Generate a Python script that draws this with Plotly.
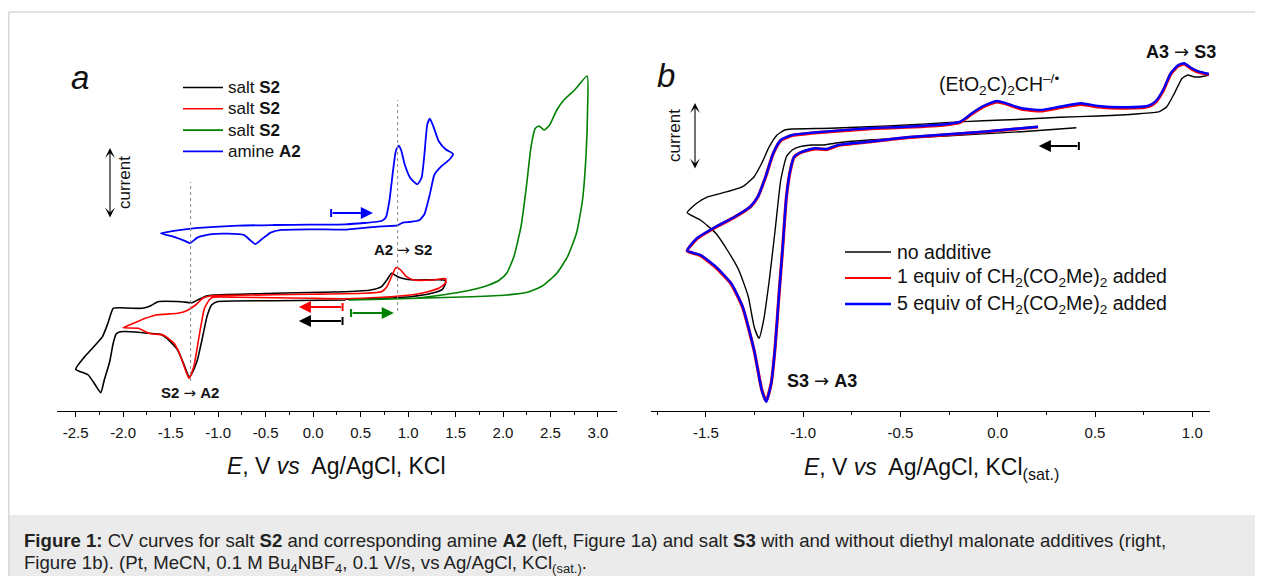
import plotly.graph_objects as go

W, H = 1263, 576          # browser window
OFF = 8                   # default page margin of the html body
FW, FH = W - OFF, H - OFF  # figure size so that it fits the window
FONT = "Liberation Sans, Arial, Helvetica, sans-serif"

# ---------------- Panel a data: E (V vs Ag/AgCl) and current (arb. units) ----------------
a_black_E = [0.344, -0.410, -1.012, -1.069, -1.118, -1.163, -1.219, -1.276, -1.306, -1.351, -1.427, -1.540,
             -1.615, -1.728, -1.916, -2.029, -2.074, -2.105, -2.142, -2.199, -2.236, -2.293, -2.368, -2.500,
             -2.406, -2.293, -2.218, -2.161, -2.105, -2.029, -1.803, -1.709, -1.634, -1.389, -1.276, -1.201,
             -1.125, -1.050, -0.410, 0.344, 0.607, 0.720, 0.777, 0.826, 0.890, 0.984, 1.097, 1.380, 1.398,
             1.361, 1.248, 1.022, 0.720, 0.344]
a_black_I = [11.10, 11.03, 10.93, 10.60, 9.43, 7.43, 5.10, 3.77, 3.43, 4.43, 6.10, 7.27,
             7.70, 7.77, 7.93, 7.93, 7.70, 6.77, 4.93, 3.10, 1.83, 2.60, 3.60, 4.17,
             5.43, 6.60, 7.43, 8.77, 10.27, 10.33, 10.27, 10.53, 10.93, 10.93, 10.83, 11.17,
             11.50, 11.60, 11.77, 11.93, 12.10, 12.43, 13.10, 13.77, 13.43, 13.17, 13.10, 13.10, 12.87,
             12.17, 11.77, 11.43, 11.27, 11.17]

a_red_E = [0.344, -0.033, -0.410, -0.786, -1.050, -1.088, -1.144, -1.201, -1.257, -1.306, -1.351, -1.408,
           -1.464, -1.577, -1.653, -1.728, -1.841, -1.999, -1.916, -1.766, -1.653, -1.427, -1.332, -1.238,
           -1.163, -1.088, -0.786, -0.033, 0.532, 0.720, 0.777, 0.833, 0.871, 0.916, 0.984, 1.059, 1.248,
           1.398, 1.391, 1.323, 1.210, 1.097, 0.909, 0.720, 0.344]
a_red_I = [11.23, 11.27, 11.33, 11.37, 11.37, 11.17, 10.27, 7.43, 4.43, 3.27, 4.27, 5.77,
           6.77, 7.60, 7.67, 7.77, 8.27, 8.33, 8.67, 9.27, 9.60, 9.77, 10.03, 10.60,
           11.27, 11.50, 11.57, 11.67, 11.77, 11.93, 12.43, 13.60, 14.33, 14.17, 13.43, 13.10, 13.10,
           13.23, 12.77, 12.27, 11.93, 11.70, 11.50, 11.37, 11.23]

a_green_E = [0.381, 1.097, 1.474, 1.662, 1.850, 1.963, 2.038, 2.114, 2.189, 2.246, 2.295, 2.340, 2.378,
             2.434, 2.491, 2.566, 2.641, 2.754, 2.886, 2.890, 2.875, 2.837, 2.773, 2.679, 2.566, 2.415,
             2.265, 2.038, 1.662, 1.097, 0.381]
a_green_I = [11.10, 11.30, 11.77, 12.10, 12.60, 13.10, 13.77, 15.43, 18.43, 22.43, 26.43, 28.27, 28.50,
             28.10, 28.60, 30.10, 31.10, 32.10, 33.50, 30.10, 25.77, 21.10, 17.77, 15.43, 13.77, 12.50,
             11.90, 11.60, 11.43, 11.27, 11.10]

a_blue_E = [-1.604, -1.427, -1.163, -0.786, -0.410, -0.033, 0.344, 0.532, 0.720, 0.766, 0.803, 0.841, 0.871,
            0.901, 0.928, 0.965, 1.022, 1.097, 1.142, 1.172, 1.202, 1.229, 1.266, 1.323, 1.398, 1.474,
            1.436, 1.342, 1.278, 1.229, 1.172, 1.116, 1.022, 0.946, 0.890, 0.720, 0.457, 0.344, -0.033,
            -0.334, -0.447, -0.541, -0.609, -0.654, -0.730, -0.899, -1.088, -1.219, -1.295, -1.351, -1.464,
            -1.604]
a_blue_I = [17.77, 18.07, 18.34, 18.54, 18.60, 18.64, 18.67, 18.80, 19.00, 19.34, 21.00, 23.99, 25.98,
            26.54, 26.05, 24.65, 23.32, 22.66, 23.32, 25.65, 28.64, 29.24, 28.47, 26.98, 26.15, 25.71,
            25.15, 24.39, 23.65, 21.66, 19.67, 19.07, 18.90, 18.84, 18.57, 18.47, 18.24, 18.14, 18.17,
            18.11, 17.84, 17.18, 16.68, 17.01, 17.61, 17.74, 17.67, 17.34, 16.78, 17.01, 17.41,
            17.77]

a_names = ["salt <b>S2</b>", "salt <b>S2</b>", "salt <b>S2</b>", "amine <b>A2</b>"]

# ---------------- Panel b data ----------------
b_black_E = [0.404, 0.123, -0.270, -0.663, -0.820, -0.899, -0.958, -1.017, -1.056, -1.086, -1.115, -1.144,
             -1.174, -1.203, -1.227, -1.252, -1.282, -1.331, -1.390, -1.449, -1.528, -1.596,
             -1.547, -1.488, -1.390, -1.311, -1.252, -1.213, -1.174, -1.134, -1.095, -1.056, -0.860, -0.663,
             -0.467, -0.270, -0.074, 0.123, 0.319, 0.516, 0.712, 0.830, 0.869, 0.908, 0.948, 0.977, 1.007,
             1.046, 1.085]
b_black_I = [28.33, 27.93, 27.50, 27.10, 26.83, 26.60, 26.60, 26.43, 26.10, 25.43, 23.10, 18.10,
             13.10, 9.10, 7.27, 8.43, 11.43, 14.10, 16.10, 17.77, 19.10, 19.83,
             20.77, 21.43, 21.93, 22.43, 23.43, 24.77, 26.43, 27.60, 28.10, 28.20, 28.27, 28.43,
             28.60, 28.83, 29.03, 29.17, 29.37, 29.50, 29.70, 29.93, 30.43, 31.77, 33.27, 33.60, 33.43,
             33.43, 33.60]

b_blue_E = [0.207, -0.074, -0.467, -0.663, -0.820, -0.879, -0.938, -0.978, -1.017, -1.046, -1.066, -1.086,
            -1.105, -1.125, -1.144, -1.164, -1.190, -1.213, -1.252, -1.311, -1.370, -1.449, -1.528, -1.596,
            -1.547, -1.449, -1.351, -1.272, -1.233, -1.193, -1.154, -1.115, -1.056, -0.958, -0.663, -0.467,
            -0.270, -0.192, -0.133, -0.074, -0.005, 0.044, 0.123, 0.221, 0.319, 0.427, 0.516, 0.633, 0.771,
            0.810, 0.850, 0.889, 0.928, 0.958, 0.997, 1.036, 1.085]
b_blue_I = [28.43, 27.93, 27.37, 26.93, 26.60, 26.20, 26.27, 26.10, 25.83, 25.43, 24.10, 21.43,
            16.43, 11.43, 6.43, 2.77, 0.93, 2.10, 6.10, 10.43, 12.77, 14.43, 15.60, 16.03,
            17.27, 18.43, 19.43, 20.43, 21.43, 23.43, 25.77, 27.10, 27.60, 27.83, 28.27, 28.43,
            28.67, 28.93, 29.77, 30.50, 31.00, 30.77, 30.27, 30.10, 30.43, 30.77, 30.50, 30.37, 30.50,
            30.93, 32.10, 33.77, 34.60, 34.77, 34.27, 33.93, 33.70]

b_red_E = [0.207, -0.074, -0.467, -0.663, -0.820, -0.879, -0.938, -0.978, -1.017, -1.046, -1.066, -1.086,
           -1.105, -1.125, -1.144, -1.164, -1.190, -1.213, -1.252, -1.311, -1.370, -1.449, -1.528, -1.596,
           -1.547, -1.449, -1.351, -1.272, -1.233, -1.193, -1.154, -1.115, -1.056, -0.958, -0.663, -0.467,
           -0.270, -0.192, -0.133, -0.074, -0.005, 0.044, 0.123, 0.221, 0.319, 0.427, 0.516, 0.633, 0.771,
           0.810, 0.850, 0.889, 0.928, 0.958, 0.997, 1.036, 1.085]
b_red_I = [28.40, 27.90, 27.33, 26.90, 26.55, 26.15, 26.22, 26.05, 25.80, 25.40, 24.05, 21.40,
           16.40, 11.40, 6.40, 2.80, 1.00, 2.15, 6.05, 10.35, 12.70, 14.35, 15.55, 16.00,
           17.20, 18.38, 19.40, 20.40, 21.40, 23.40, 25.73, 27.05, 27.55, 27.78, 28.22, 28.38,
           28.62, 28.88, 29.70, 30.42, 30.92, 30.70, 30.18, 30.00, 30.33, 30.66, 30.40, 30.28, 30.42,
           30.85, 32.00, 33.70, 34.50, 34.70, 34.20, 33.85, 33.65]

b_names = ["no additive", "1 equiv of CH<sub>2</sub>(CO<sub>2</sub>Me)<sub>2</sub> added",
           "5 equiv of CH<sub>2</sub>(CO<sub>2</sub>Me)<sub>2</sub> added"]

# ---------------- tick labels ----------------
a_tickvals = [-2.5, -2.0, -1.5, -1.0, -0.5, 0.0, 0.5, 1.0, 1.5, 2.0, 2.5, 3.0]
a_ticktext = ["-2.5", "-2.0", "-1.5", "-1.0", "-0.5", "0.0", "0.5", "1.0", "1.5", "2.0", "2.5", "3.0"]
b_tickvals = [-1.5, -1.0, -0.5, 0.0, 0.5, 1.0]
b_ticktext = ["-1.5", "-1.0", "-0.5", "0.0", "0.5", "1.0"]
a_minor = [-2.25, -1.75, -1.25, -0.75, -0.25, 0.25, 0.75, 1.25, 1.75, 2.25, 2.75]
b_minor = [-1.75, -1.25, -0.75, -0.25, 0.25, 0.75]

# marker positions (V) for dotted guide lines in panel a
E_S2_to_A2 = -1.29
E_A2_to_S2 = 0.89

# ---------------- colours ----------------
BLACK, RED, GREEN, BLUE = "#000000", "#ff0000", "#008000", "#0000ff"
TXT = "#111111"
ARROW = '<span style="font-family:DejaVu Sans">\u2192</span>'


def pxx(x):
    return (x - OFF) / FW


def pxy(y):
    return 1 - (y - OFF) / FH


def txt(x, y, text, size, **kw):
    d = dict(xref="paper", yref="paper", x=pxx(x), y=pxy(y), text=text, showarrow=False,
             xanchor="center", yanchor="middle", font=dict(size=size, family=FONT, color=TXT))
    d.update(kw)
    return d


fig = go.Figure()

line_kw = dict(shape="spline", smoothing=0.5)
fig.add_trace(go.Scatter(x=a_black_E, y=a_black_I, mode="lines", name=a_names[0],
                         line=dict(color=BLACK, width=1.6, **line_kw), xaxis="x", yaxis="y"))
fig.add_trace(go.Scatter(x=a_red_E, y=a_red_I, mode="lines", name=a_names[1],
                         line=dict(color=RED, width=1.6, **line_kw), xaxis="x", yaxis="y"))
fig.add_trace(go.Scatter(x=a_green_E, y=a_green_I, mode="lines", name=a_names[2],
                         line=dict(color=GREEN, width=1.6, **line_kw), xaxis="x", yaxis="y"))
fig.add_trace(go.Scatter(x=a_blue_E, y=a_blue_I, mode="lines", name=a_names[3],
                         line=dict(color=BLUE, width=1.8, **line_kw), xaxis="x", yaxis="y"))

fig.add_trace(go.Scatter(x=b_black_E, y=b_black_I, mode="lines", name=b_names[0],
                         line=dict(color=BLACK, width=1.4, **line_kw), xaxis="x2", yaxis="y2"))
fig.add_trace(go.Scatter(x=b_red_E, y=b_red_I, mode="lines", name=b_names[1],
                         line=dict(color=RED, width=3.2, **line_kw), xaxis="x2", yaxis="y2"))
fig.add_trace(go.Scatter(x=b_blue_E, y=b_blue_I, mode="lines", name=b_names[2],
                         line=dict(color=BLUE, width=2.4, **line_kw), xaxis="x2", yaxis="y2"))

ydom = [pxy(411), pxy(21)]
axis_common = dict(showgrid=False, zeroline=False, showline=True, linecolor="black", linewidth=1,
                   ticks="outside", ticklen=5, tickwidth=1, tickcolor="black",
                   tickfont=dict(family=FONT, size=15, color=TXT), ticklabelstandoff=3,
                   tickmode="array")

fig.update_layout(
    width=FW, height=FH, margin=dict(l=0, r=0, t=0, b=0),
    paper_bgcolor="white", plot_bgcolor="rgba(0,0,0,0)", showlegend=False,
    font=dict(family=FONT, color=TXT),
    xaxis=dict(domain=[pxx(56.7), pxx(616.7)], range=[-2.70, 3.197], anchor="y",
               tickvals=a_tickvals, ticktext=a_ticktext,
               minor=dict(tickmode="array", tickvals=a_minor, ticks="outside", ticklen=3, tickcolor="black"),
               **axis_common),
    yaxis=dict(domain=ydom, range=[0, 39], visible=False, anchor="x"),
    xaxis2=dict(domain=[pxx(651), pxx(1210)], range=[-1.782, 1.091], anchor="y2",
                tickvals=b_tickvals, ticktext=b_ticktext,
                minor=dict(tickmode="array", tickvals=b_minor, ticks="outside", ticklen=3, tickcolor="black"),
                **axis_common),
    yaxis2=dict(domain=ydom, range=[0, 39], visible=False, anchor="x2"),
)

shapes = []
anns = []

# frame and caption band
shapes.append(dict(type="rect", xref="paper", yref="paper", x0=-0.01, x1=1.01, y0=-0.01, y1=pxy(515),
                   fillcolor="#ebebeb", line=dict(width=0), layer="below"))
shapes.append(dict(type="line", xref="paper", yref="paper", x0=pxx(8.8), x1=1.01, y0=pxy(12), y1=pxy(12),
                   line=dict(color="#d9d9d9", width=1.5)))
shapes.append(dict(type="line", xref="paper", yref="paper", x0=pxx(8.8), x1=pxx(8.8), y0=pxy(12), y1=-0.01,
                   line=dict(color="#d9d9d9", width=1.5)))

# dotted guide lines (panel a)
shapes.append(dict(type="line", xref="x", yref="y", x0=E_S2_to_A2, x1=E_S2_to_A2, y0=1.8, y1=22.9,
                   line=dict(color="#8a8a8a", width=1, dash="dot")))
shapes.append(dict(type="line", xref="x", yref="y", x0=E_A2_to_S2, x1=E_A2_to_S2, y0=10.0, y1=31.1,
                   line=dict(color="#8a8a8a", width=1, dash="dot")))

# scan-direction arrows: (axis suffix, tail E, head E, current level, colour)
scan_arrows = [("", 0.19, 0.63, 19.8, BLUE), ("", 0.31, -0.15, 10.4, RED),
               ("", 0.31, -0.15, 9.0, BLACK), ("", 0.40, 0.85, 9.8, GREEN),
               ("2", 0.417, 0.211, 26.5, BLACK)]
for suf, e0, e1, lev, col in scan_arrows:
    anns.append(dict(xref="x" + suf, yref="y" + suf, axref="x" + suf, ayref="y" + suf,
                     x=e1, y=lev, ax=e0, ay=lev, text="", showarrow=True,
                     arrowhead=2, arrowsize=1.1, arrowwidth=2.2, arrowcolor=col))
    shapes.append(dict(type="line", xref="x" + suf, yref="y" + suf, ysizemode="pixel", yanchor=lev,
                       x0=e0, x1=e0, y0=-4, y1=4, line=dict(color=col, width=2)))

# panel labels
anns.append(txt(80, 78, "<i>a</i>", 33))
anns.append(txt(666, 75, "<i>b</i>", 33))

# current double arrows
for xa, ytop, ybot, xt, yt in [(110, 148, 219, 124, 183), (695, 103, 170, 674, 136)]:
    anns.append(dict(xref="paper", yref="paper", x=pxx(xa), y=pxy(ytop), ax=0, ay=ybot - ytop,
                     text="", showarrow=True, arrowside="end+start", arrowhead=3, startarrowhead=3,
                     arrowsize=1.5, startarrowsize=1.5, arrowwidth=1.1, arrowcolor="black"))
    anns.append(txt(xt, yt, "current", 17, textangle=-90))

# peak labels
anns.append(dict(xref="x", yref="y", x=0.946, y=16.1, text="<b>A2</b> " + ARROW + " <b>S2</b>", showarrow=False,
                 xanchor="center", yanchor="middle", font=dict(size=15, family=FONT, color=TXT)))
anns.append(dict(xref="x", yref="y", x=-1.295, y=1.77, text="<b>S2</b> " + ARROW + " <b>A2</b>", showarrow=False,
                 xanchor="center", yanchor="middle", font=dict(size=15, family=FONT, color=TXT), bgcolor="white"))
anns.append(dict(xref="x2", yref="y2", x=0.943, y=36.0, text="<b>A3</b> " + ARROW + " <b>S3</b>", showarrow=False,
                 xanchor="center", yanchor="middle", font=dict(size=18, family=FONT, color=TXT)))
anns.append(dict(xref="x2", yref="y2", x=-0.903, y=3.1, text="<b>S3</b> " + ARROW + " <b>A3</b>", showarrow=False,
                 xanchor="center", yanchor="middle", font=dict(size=18, family=FONT, color=TXT)))
anns.append(dict(xref="x2", yref="y2", x=0.005, y=32.7,
                 text="(EtO<sub>2</sub>C)<sub>2</sub>CH<sup>\u2013/\u2022</sup>", showarrow=False,
                 xanchor="center", yanchor="middle", font=dict(size=19.5, family=FONT, color=TXT)))

# manual legends
leg_a_cols = [BLACK, RED, GREEN, BLUE]
leg_a_rows = [87.5, 108.8, 130.1, 151.4]
for name, col, yy in zip(a_names, leg_a_cols, leg_a_rows):
    shapes.append(dict(type="line", xref="paper", yref="paper", x0=pxx(183), x1=pxx(223), y0=pxy(yy), y1=pxy(yy),
                       line=dict(color=col, width=1.6)))
    anns.append(txt(226, yy, name, 17, xanchor="left"))
leg_b_cols = [BLACK, RED, BLUE]
leg_b_widths = [1.4, 2, 2.4]
leg_b_rows = [252, 278, 304]
for name, col, lw, yy in zip(b_names, leg_b_cols, leg_b_widths, leg_b_rows):
    shapes.append(dict(type="line", xref="paper", yref="paper", x0=pxx(845), x1=pxx(891), y0=pxy(yy), y1=pxy(yy),
                       line=dict(color=col, width=lw)))
    anns.append(txt(895, yy, name, 19.5, xanchor="left"))

# axis titles
anns.append(txt(336.7, 466, "<i>E</i>, V <i>vs</i>  Ag/AgCl, KCl", 23))
anns.append(txt(931, 468, "<i>E</i>, V <i>vs</i>  Ag/AgCl, KCl<sub>(sat.)</sub>", 23))

# caption
anns.append(txt(22, 540, "<b>Figure 1:</b> CV curves for salt <b>S2</b> and corresponding amine <b>A2</b> "
                         "(left, Figure 1a) and salt <b>S3</b> with and without diethyl malonate additives (right,",
                18, xanchor="left", font=dict(size=18.6, family=FONT, color="#222")))
anns.append(txt(22, 564, "Figure 1b). (Pt, MeCN, 0.1 M Bu<sub>4</sub>NBF<sub>4</sub>, 0.1 V/s, vs Ag/AgCl, "
                         "KCl<sub>(sat.)</sub>.",
                18, xanchor="left", font=dict(size=18.6, family=FONT, color="#222")))

fig.update_layout(shapes=shapes, annotations=anns)
fig.write_html("out.html")
